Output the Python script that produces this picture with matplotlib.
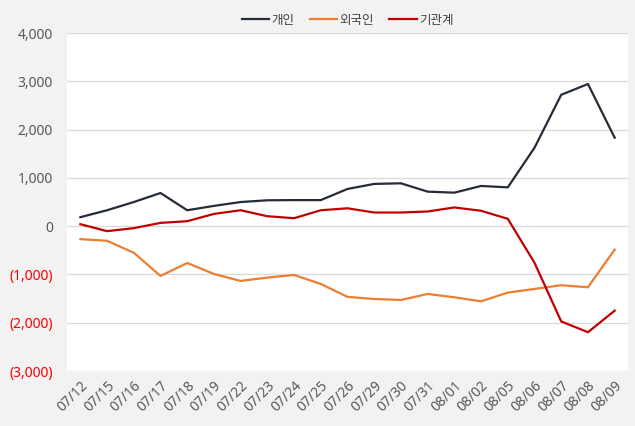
import numpy as np
import matplotlib.pyplot as plt
from matplotlib.ticker import FuncFormatter

plt.rcParams['font.family'] = ['Noto Sans', 'Noto Sans CJK KR', 'DejaVu Sans']

dates = ['07/12', '07/15', '07/16', '07/17', '07/18', '07/19', '07/22', '07/23',
         '07/24', '07/25', '07/26', '07/29', '07/30', '07/31', '08/01', '08/02',
         '08/05', '08/06', '08/07', '08/08', '08/09']

# 개인 (individuals)
individual = [186, 330, 500, 687, 330, 420, 500, 536, 540, 540, 771,
              875, 888, 715, 694, 833, 804, 1625, 2721, 2944, 1833]
# 외국인 (foreigners)
foreign = [-268, -303, -550, -1031, -763, -990, -1134, -1065, -1010, -1196, -1464,
           -1508, -1528, -1403, -1473, -1556, -1375, -1300, -1223, -1265, -487]
# 기관계 (institutions)
institution = [41, -103, -41, 68, 103, 254, 330, 206, 165, 330, 370,
               283, 283, 304, 388, 319, 152, -758, -1973, -2196, -1750]

fig = plt.figure(figsize=(6.35, 4.26), dpi=100, facecolor='#f2f2f2')
ax = fig.add_axes([0.1055, 0.129, 0.8835, 0.7935])
ax.set_facecolor('white')

x = np.arange(len(dates))
ax.plot(x, individual, color='#252b37', lw=1.6, label='개인')
ax.plot(x, foreign, color='#ed7d31', lw=1.6, label='외국인')
ax.plot(x, institution, color='#c00000', lw=1.6, label='기관계')

ax.set_xlim(-0.5, len(dates) - 0.5)
ax.set_ylim(-3000, 4000)
ax.set_yticks(range(-3000, 4001, 1000))
ax.yaxis.set_major_formatter(FuncFormatter(
    lambda v, p: f'({abs(int(v)):,})' if v < 0 else f'{int(v):,}'))
ax.grid(axis='y', color='#d9d9d9', lw=0.9)
ax.set_axisbelow(True)
for s in ax.spines.values():
    s.set_visible(False)
ax.tick_params(length=0, labelsize=10, colors='#595959')
ax.tick_params(axis='y', pad=10)
ax.tick_params(axis='x', pad=5)

ax.set_xticks(x)
ax.set_xticklabels(dates, rotation=45, ha='right', rotation_mode='anchor')

for lab, v in zip(ax.get_yticklabels(), ax.get_yticks()):
    if v < 0:
        lab.set_color('#ff0000')

ax.legend(loc='lower center', bbox_to_anchor=(0.5, 1.0), ncol=3, frameon=False,
          prop={'family': ['Noto Sans CJK KR', 'DejaVu Sans'], 'size': 9},
          handlelength=2.2, handletextpad=0.2, columnspacing=1.2,
          labelcolor='#404040', borderaxespad=0.1)

fig.savefig('out.png', dpi=100, facecolor=fig.get_facecolor())
